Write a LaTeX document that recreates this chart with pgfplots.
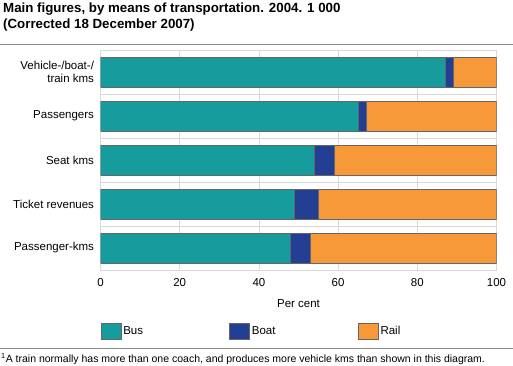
\documentclass[border=0pt]{standalone}
\usepackage{pgfplots}
\pgfplotsset{compat=1.18}
\usepackage{fontspec}
\setmainfont{Liberation Sans}
\definecolor{bus}{HTML}{169C9C}
\definecolor{boat}{HTML}{223F93}
\definecolor{rail}{HTML}{F89939}
\definecolor{gridc}{HTML}{D9D9D9}
\begin{document}
\begin{tikzpicture}
\path[use as bounding box] (0pt,0pt) rectangle (513pt,-366pt);
\node[anchor=north west, inner sep=0, align=left, font=\bfseries\fontsize{13.3}{15.5}\selectfont] at (3pt,-3pt) {Main figures, by means of transportation. 2004. 1 000\\(Corrected 18 December 2007)};
\draw[black!45, line width=0.8pt] (0pt,-44.5pt) -- (513pt,-44.5pt);
\begin{axis}[
  at={(100.5pt,-270pt)}, anchor=south west,
  scale only axis, width=396pt, height=220pt,
  xbar stacked, bar width=30pt,
  xmin=0, xmax=100, ymin=-0.5, ymax=4.5, y dir=reverse,
  ytick={0,1,2,3,4},
  yticklabels={{Vehicle-/boat-/\\train kms},Passengers,Seat kms,Ticket revenues,Passenger-kms},
  yticklabel style={align=right, font=\fontsize{11.5}{13.5}\selectfont, xshift=-3pt},
  xtick={0,20,40,60,80,100},
  xticklabel style={font=\fontsize{11.5}{13.5}\selectfont, yshift=-5pt},
  /pgf/number format/assume math mode=true,
  minor ytick={0.5,1.5,2.5,3.5},
  xmajorgrids, yminorgrids,
  major grid style={gridc, line width=0.8pt},
  minor grid style={gridc, line width=0.8pt},
  axis line style={gridc, line width=0.8pt},
  major tick length=0pt, minor tick length=0pt,
  xlabel={Per cent},
  xlabel style={font=\fontsize{11.5}{13.5}\selectfont, yshift=-6pt},
  legend columns=3,
  legend style={at={(axis description cs:0,-0.2773)}, anchor=west, draw=none, inner sep=0pt,
    font=\fontsize{11.5}{13.5}\selectfont, /tikz/every even column/.append style={column sep=0pt}},
  legend image code/.code={\draw[#1, draw=black!60, line width=0.6pt] (0pt,-8pt) rectangle (20pt,8pt);},
  every axis plot/.append style={draw=black!60, line width=0.6pt},
]
\addplot[fill=bus] coordinates {(87,0) (65,1) (54,2) (49,3) (48,4)};
\addplot[fill=boat] coordinates {(2,0) (2,1) (5,2) (6,3) (5,4)};
\addplot[fill=rail] coordinates {(11,0) (33,1) (41,2) (45,3) (47,4)};
\addlegendentry{\makebox[104pt][l]{Bus}}
\addlegendentry{\makebox[104pt][l]{Boat}}
\addlegendentry{\makebox[104pt][l]{Rail}}
\end{axis}
\draw[black!45, line width=0.8pt] (0pt,-348.5pt) -- (513pt,-348.5pt);
\node[anchor=north west, inner sep=0, font=\fontsize{10.5}{12}\selectfont] at (1pt,-353pt) {\textsuperscript{1}A train normally has more than one coach, and produces more vehicle kms than shown in this diagram.};
\end{tikzpicture}
\end{document}
